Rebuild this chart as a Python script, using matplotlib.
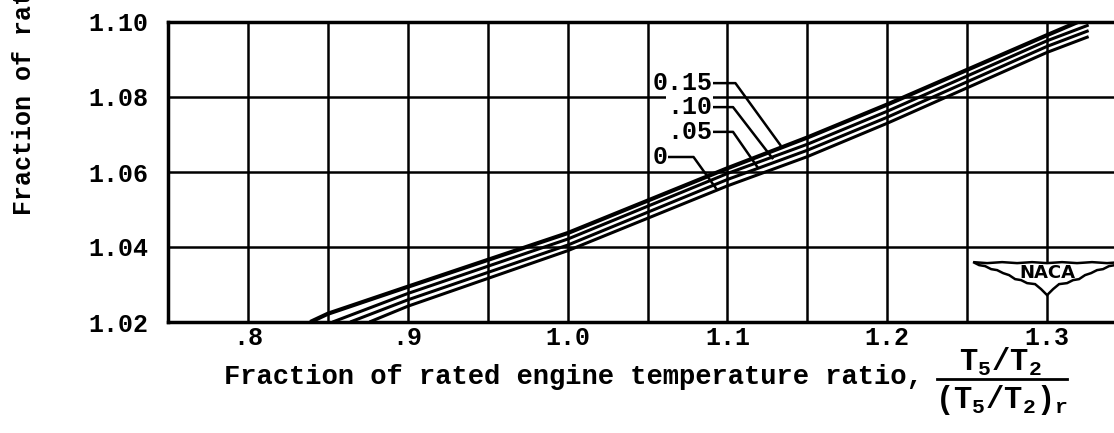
import matplotlib
matplotlib.use('Agg')
import matplotlib.pyplot as plt
from matplotlib.patches import Polygon
import numpy as np

plt.rcParams['font.family'] = ['Liberation Mono', 'DejaVu Sans Mono']
plt.rcParams['font.weight'] = 'bold'
plt.rcParams['mathtext.fontset'] = 'custom'
plt.rcParams['mathtext.rm'] = 'Liberation Mono:bold'
plt.rcParams['mathtext.it'] = 'Liberation Mono:bold'

# curves, one per parameter value
x_015 = [0.839, 0.85, 0.90, 1.00, 1.10, 1.15, 1.20, 1.30, 1.322]
y_015 = [1.0200, 1.0222, 1.0294, 1.0437, 1.0610, 1.0692, 1.0780, 1.0965, 1.1005]
x_010 = [0.853, 0.90, 1.00, 1.10, 1.15, 1.20, 1.30, 1.326]
y_010 = [1.0200, 1.0276, 1.0421, 1.0596, 1.0674, 1.0762, 1.0950, 1.0992]
x_005 = [0.864, 0.90, 1.00, 1.10, 1.15, 1.20, 1.30, 1.326]
y_005 = [1.0200, 1.0259, 1.0405, 1.0580, 1.0658, 1.0746, 1.0935, 1.0977]
x_000 = [0.876, 0.90, 1.00, 1.10, 1.15, 1.20, 1.30, 1.326]
y_000 = [1.0200, 1.0242, 1.0390, 1.0563, 1.0641, 1.0730, 1.0919, 1.0961]

curve_labels = ['0.15', '.10', '.05', '0']
# label anchor (text end), elbow x, leader tip
label_pos = [(1.0905, 1.0837), (1.0905, 1.0773), (1.0905, 1.0707), (1.0625, 1.0640)]
elbow_x = [1.1050, 1.1035, 1.1035, 1.0788]
tip_pos = [(1.1331, 1.0672), (1.1281, 1.0637), (1.1188, 1.0613), (1.0931, 1.0555)]

xticks = [0.8, 0.9, 1.0, 1.1, 1.2, 1.3]
xticklabels = ['.8', '.9', '1.0', '1.1', '1.2', '1.3']
yticks = [1.02, 1.04, 1.06, 1.08, 1.10]
yticklabels = ['1.02', '1.04', '1.06', '1.08', '1.10']

fig = plt.figure(figsize=(11.14, 4.33), dpi=100)
ax = fig.add_axes([168 / 1114, 111 / 433, 959 / 1114, 300 / 433])
ax.set_xlim(0.75, 1.35)
ax.set_ylim(1.02, 1.10)

ax.set_xticks(xticks)
ax.set_xticklabels(xticklabels, fontsize=18)
ax.set_xticks(np.arange(0.75, 1.351, 0.05), minor=True)
ax.set_yticks(yticks)
ax.set_yticklabels(yticklabels, fontsize=18)
ax.tick_params(which='both', length=0)
ax.tick_params(axis='x', pad=3)
ax.tick_params(axis='y', pad=14)
ax.grid(which='both', color='black', linewidth=1.8)
for s in ax.spines.values():
    s.set_linewidth(2.5)
ax.set_axisbelow(True)

ax.plot(x_015, y_015, color='black', lw=3.0, solid_capstyle='butt', zorder=3)
ax.plot(x_010, y_010, color='black', lw=2.2, solid_capstyle='butt', zorder=3)
ax.plot(x_005, y_005, color='black', lw=2.2, solid_capstyle='butt', zorder=3)
ax.plot(x_000, y_000, color='black', lw=2.2, solid_capstyle='butt', zorder=3)

for lab, (lx, ly), ex, (tx, ty) in zip(curve_labels, label_pos, elbow_x, tip_pos):
    ax.text(lx, ly, lab, fontsize=18, ha='right', va='center', zorder=5,
            bbox=dict(facecolor='white', edgecolor='none', pad=0.5))
    ax.plot([lx + 0.001, ex, tx], [ly, ly, ty], color='black', lw=1.8, zorder=4)

# NACA wing logo, bottom right
cx, cy = 1.30, 1.0325
dx, dy = 0.000625, 0.02 / 75
wing = [(-74, 13), (-60, 12), (-45, 13), (-30, 12), (-15, 13), (0, 12), (15, 13), (30, 12), (45, 13),
        (60, 12), (74, 13),
        (68, 10), (62, 9), (56, 6), (50, 5), (44, 2), (38, 0), (32, -4), (26, -5), (20, -8),
        (12, -9), (6, -14), (0, -20), (-6, -14), (-12, -9), (-20, -8), (-26, -5), (-32, -4),
        (-38, 0), (-44, 2), (-50, 5), (-56, 6), (-62, 9), (-68, 10)]
pts = [(cx + px * dx, cy + py * dy) for px, py in wing]
ax.add_patch(Polygon(pts, closed=True, facecolor='white', edgecolor='black', lw=1.8, zorder=4))
ax.text(cx, cy + 2 * dy, 'NACA', fontsize=13, family='DejaVu Sans', weight='bold',
        ha='center', va='center', zorder=5)

fig.text(224 / 1114, 1 - 377 / 433, 'Fraction of rated engine temperature ratio,',
         fontsize=19.5, ha='left', va='center')
fig.text(1000 / 1114, 1 - 362 / 433, r'$\mathrm{T_5/T_2}$', fontsize=22,
         ha='center', va='center')
fig.add_artist(plt.Line2D([937 / 1114, 1067 / 1114], [1 - 379 / 433, 1 - 379 / 433],
                          color='black', lw=2.0))
fig.text(1002 / 1114, 1 - 400 / 433, r'$\mathrm{(T_5/T_2)_r}$', fontsize=22,
         ha='center', va='center')
fig.text(24 / 1114, 1 - 215 / 433, 'Fraction of rated thrust', fontsize=18,
         rotation=90, ha='center', va='bottom')

fig.savefig('out.png', dpi=100)
